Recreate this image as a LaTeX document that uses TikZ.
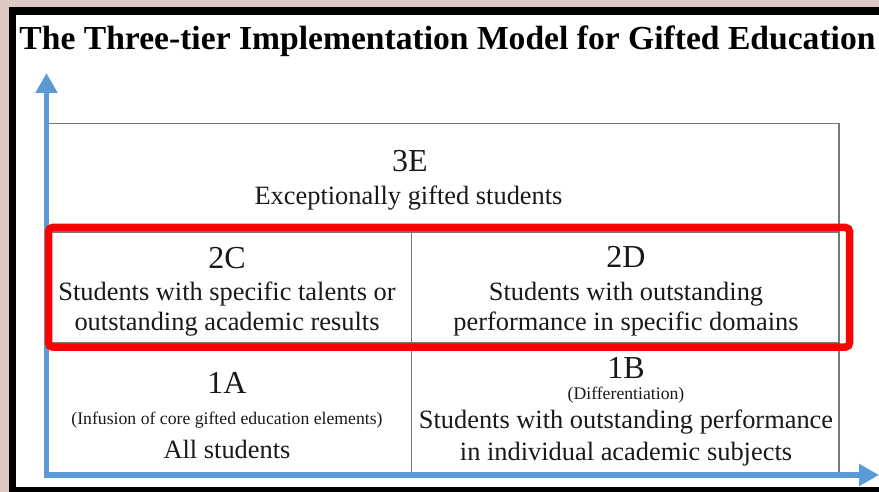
\documentclass[tikz,border=0pt]{standalone}
\usepackage{fontspec}
\setmainfont{Liberation Serif}
\usetikzlibrary{arrows.meta}
\definecolor{axisblue}{RGB}{91,155,213}
\definecolor{gridgray}{RGB}{120,120,120}
\definecolor{backdrop}{RGB}{222,200,196}
\definecolor{ink}{RGB}{25,25,25}
\begin{document}
\begin{tikzpicture}[x=1pt,y=-1pt,
  txt/.style={anchor=base, inner sep=0pt, text=ink},
  body/.style={txt, font=\fontsize{26.4}{30}\selectfont},
  tier/.style={txt, font=\fontsize{32}{36}\selectfont},
  note/.style={txt, font=\fontsize{17.7}{20}\selectfont},
  heading/.style={txt, text=black, font=\fontsize{33.6}{38}\selectfont\bfseries},
  gridline/.style={draw=gridgray, line width=1.3pt},
  axis/.style={draw=axisblue, line width=5.5pt,
    {Triangle[width=21pt,length=20pt]}-{Triangle[width=21pt,length=20pt]}},
  highlight/.style={draw=red, line width=7.5pt, rounded corners=4pt},
]
\useasboundingbox (0,0) rectangle (879,492);
% backdrop and black frame
\fill[backdrop] (0,0) rectangle (879,492);
\fill[black] (9,7) rectangle (900,500);
\fill[white] (16,15) rectangle (900,487);

% title
\node[heading] (title) at (447.5,49.5) {The Three-tier Implementation Model for Gifted Education};

% table grid
\draw[gridline] (47,123.5) rectangle (839,475);
\draw[gridline] (47,232) -- (839,232);
\draw[gridline] (47,343) -- (839,343);
\draw[gridline] (411.5,232) -- (411.5,475);

% axes
\coordinate (ytip) at (46.5,73);
\coordinate (origin) at (46.5,475);
\coordinate (xtip) at (879,475);
\draw[axis] (ytip) -- (origin) -- (xtip);

% tier 3
\node[tier] (t3e) at (410,172) {3E};
\node[body] (t3etext) at (408.5,205) {Exceptionally gifted students};

% tier 2
\node[tier] (t2c) at (227,268) {2C};
\node[body] (t2ca) at (227,300) {Students with specific talents or};
\node[body] (t2cb) at (227,330) {outstanding academic results};
\node[tier] (t2d) at (626,267) {2D};
\node[body] (t2da) at (626,300) {Students with outstanding};
\node[body] (t2db) at (626,330) {performance in specific domains};

% tier 1
\node[tier] (t1a) at (227,393) {1A};
\node[note] (t1anote) at (227,424) {(Infusion of core gifted education elements)};
\node[body] (t1atext) at (227,458) {All students};
\node[tier] (t1b) at (626,378) {1B};
\node[note] (t1bnote) at (626,399) {(Differentiation)};
\node[body] (t1ba) at (626,428) {Students with outstanding performance};
\node[body] (t1bb) at (626,460) {in individual academic subjects};

% highlighted middle tier
\draw[highlight] (48.5,227.5) rectangle (849.5,347);
\end{tikzpicture}
\end{document}
